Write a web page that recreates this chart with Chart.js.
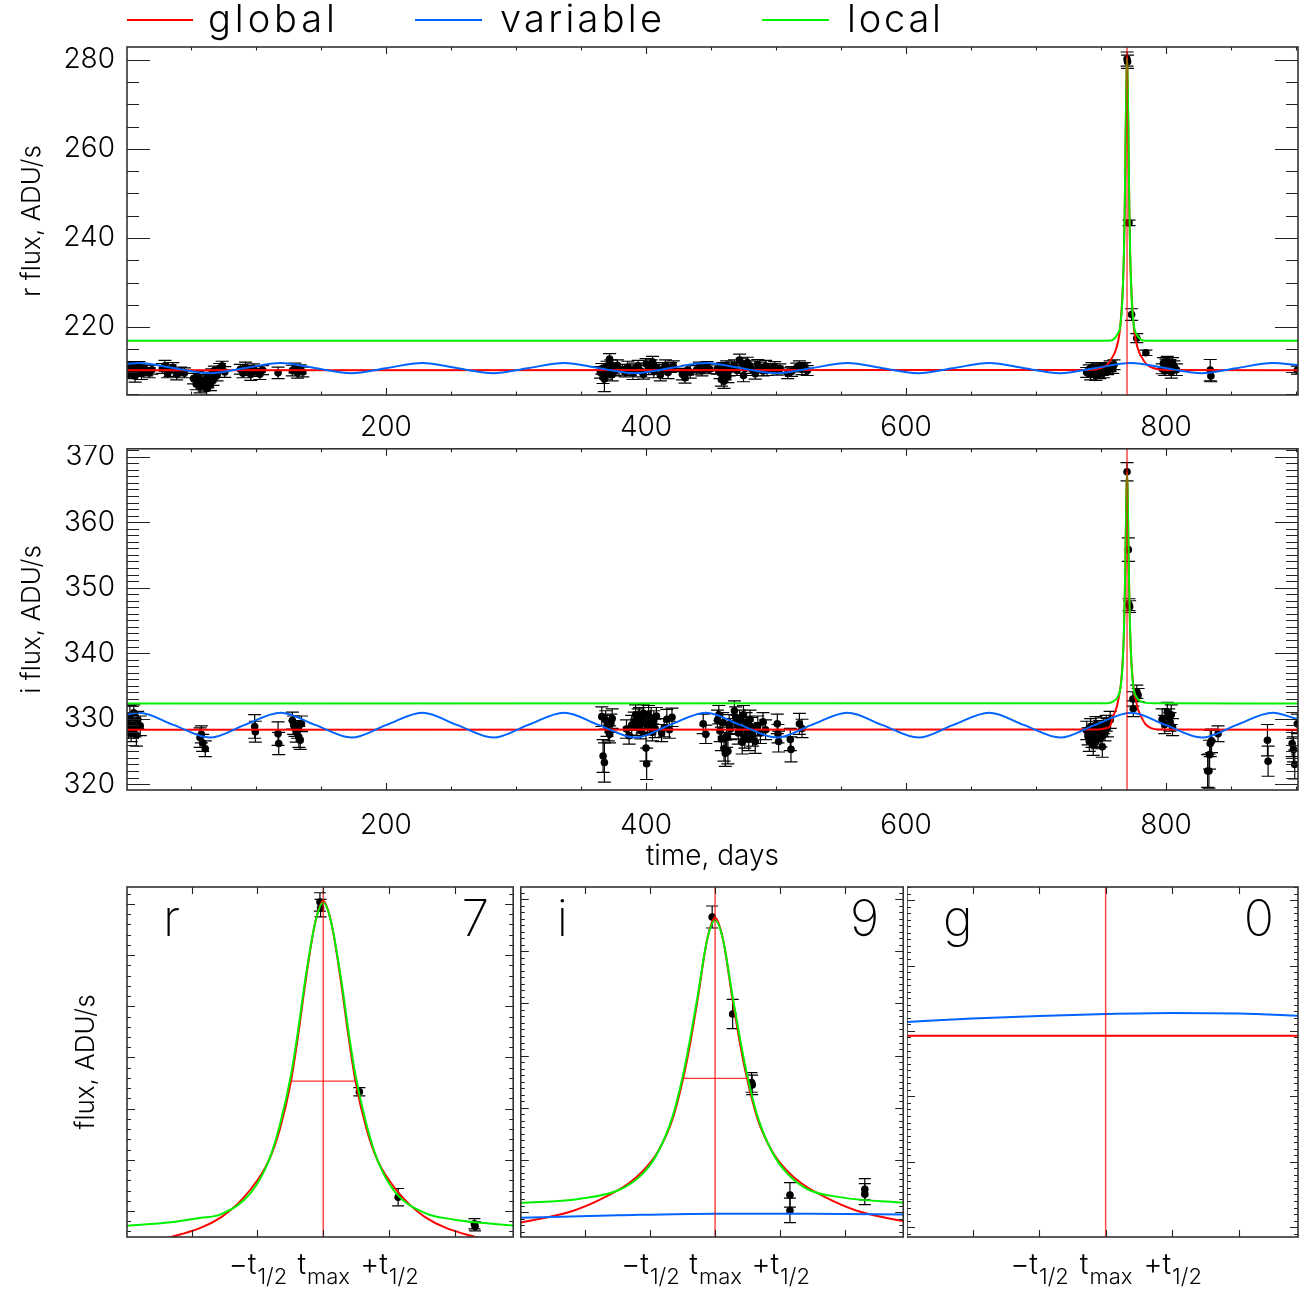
<!DOCTYPE html>
<html><head><meta charset="utf-8">
<script src="https://cdn.jsdelivr.net/npm/chart.js@4.4.0/dist/chart.umd.min.js"></script>
<style>
html,body{margin:0;padding:0;background:#fff;}
#wrap{position:relative;width:1305px;height:1289px;overflow:hidden;background:#fff;}
canvas{position:absolute;}
</style></head><body><div id="wrap">
<canvas id="c1" style="left:0px;top:0px" width="1305" height="445"></canvas>
<canvas id="c2" style="left:0px;top:445px" width="1305" height="440"></canvas>
<canvas id="c3" style="left:60px;top:880px" width="457" height="409"></canvas>
<canvas id="c4" style="left:517px;top:880px" width="390" height="409"></canvas>
<canvas id="c5" style="left:907px;top:880px" width="398" height="409"></canvas>
</div>
<script>
// ---------------- DATA ----------------
const tMax = 770;
const xTickLabels = [200, 400, 600, 800];
const rTickLabels = [220, 240, 260, 280];
const iTickLabels = [320, 330, 340, 350, 360, 370];

// r band observations (days, flux, error)
const rDays = [1,2,3,4,5,6,7,8,9,10,11,12,14,16,18,20,
 28,30,32,34,36,39,42,45,
 52,54,55,57,58,60,61,62,63,64,65,66,67,68,70,72,74,76,
 88,90,92,94,96,98,100,103,105,
 117,
 128,130,132,134,136,
 365,366,367,368,369,370,371,372,373,374,375,376,378,
 382,384,386,388,390,392,394,396,398,400,402,404,405,406,408,
 411,413,415,417,419,421,
 428,430,432,434,
 439,441,443,445,447,449,
 455,457,458,459,460,461,462,463,464,466,
 468,470,472,474,475,476,478,480,482,484,486,488,490,492,493,
 497,499,501,503,
 509,512,
 516,518,520,522,524,
 739,741,742,743,744,745,746,747,748,749,750,751,752,753,755,757,759,760,
 770,770.4,771.5,773.5,777.5,784.5,
 797,798,799,800,801,802,803,804,805,806,808,
 834,834.5,
 901];
const rFlux = [210.5,209.4,210.9,209.8,211.2,210.1,209.0,210.6,209.9,211.0,210.3,209.5,210.8,210.2,209.7,210.4,
 210.7,211.3,209.6,210.2,210.9,209.3,210.0,209.7,
 208.4,207.2,208.9,206.6,207.8,206.9,208.2,206.2,207.5,208.7,207.0,209.4,208.0,210.2,209.1,210.7,211.3,209.9,
 210.5,209.6,210.9,210.2,209.3,210.7,210.0,209.4,210.3,
 209.7,
 210.2,210.8,209.7,210.5,209.9,
 209.8,210.6,208.7,208.3,209.5,211.2,210.0,212.8,211.5,209.3,210.7,210.1,211.4,
 210.4,209.9,211.0,210.3,209.6,210.8,211.3,210.1,209.4,211.7,210.6,211.5,212.2,210.0,210.9,
 209.2,210.5,211.4,209.8,210.9,211.2,
 209.4,208.6,210.3,209.9,
 210.4,211.0,210.2,210.7,211.1,210.5,
 210.6,209.7,208.2,210.9,207.8,209.3,211.3,208.9,210.2,211.0,
 211.4,210.2,212.6,211.8,209.1,210.7,212.0,211.3,210.4,209.5,211.6,210.9,210.1,211.2,210.3,
 210.8,211.1,210.2,210.6,
 209.6,210.0,
 210.9,211.3,210.5,211.0,210.2,
 209.8,210.5,209.3,210.9,209.9,210.2,209.1,210.7,210.0,209.5,211.0,210.3,209.7,210.8,210.4,211.2,210.6,211.5,
 280.2,279.6,243.4,222.8,217.5,214.2,
 210.6,211.9,210.1,211.5,212.3,210.8,211.7,209.9,212.0,211.2,210.4,
 210.3,209.0,
 210.3];
const rErr = [1.2,1.0,1.1,1.3,1.0,1.2,1.4,1.1,1.0,1.2,1.1,1.3,1.0,1.2,1.1,1.0,
 1.1,1.2,1.0,1.3,1.1,1.2,1.0,1.1,
 1.2,1.3,1.1,1.4,1.2,1.3,1.1,1.5,1.2,1.1,1.3,1.2,1.1,1.0,1.2,1.1,1.0,1.2,
 1.1,1.0,1.2,1.1,1.3,1.0,1.1,1.2,1.0,
 1.3,
 1.2,1.1,1.2,1.0,1.1,
 1.3,1.2,1.4,2.8,1.2,1.1,1.3,1.2,1.1,1.4,1.2,1.1,1.2,
 1.2,1.1,1.3,1.2,1.4,1.1,1.2,1.3,1.1,1.2,1.3,1.1,1.2,1.4,1.1,
 1.3,1.1,1.2,1.4,1.1,1.2,
 1.3,1.2,1.1,1.4,
 1.0,1.1,1.2,1.0,1.1,1.0,
 1.2,1.3,1.5,1.1,1.6,1.2,1.1,1.4,1.2,1.1,
 1.2,1.1,1.3,1.2,1.4,1.1,1.2,1.1,1.3,1.2,1.1,1.2,1.1,1.3,1.2,
 1.0,1.1,1.0,1.1,
 1.2,1.1,
 1.0,1.1,1.2,1.0,1.1,
 1.1,1.0,1.2,1.1,1.0,1.2,1.1,1.0,1.2,1.1,1.0,1.2,1.1,1.0,1.1,1.2,1.0,1.1,
 1.6,1.5,0.6,1.3,1.0,0.6,
 1.1,1.2,1.0,1.3,1.1,1.2,1.0,1.4,1.1,1.2,1.3,
 2.4,1.3,
 0.9];

// i band observations
const iDays = [1,2,3,4,5,6,7,8,9,11,
 57,58,59,61,
 99,99.5,
 117,117.5,
 128,129,130,131,132,133,134,135,
 366,367,368,369,370,371,372,373,374,
 385,387,389,
 391,392,393,394,395,396,397,398,399,400,400.5,401,402,403,404,405,406,407,408,
 412,414,416,418,420,
 444,446,
 455,456,457,458,459,460,461,462,463,464,465,
 468,469,470,471,472,473,474,475,476,477,478,479,480,481,482,484,486,488,490,492,
 501,501.5,502,
 511,511.5,
 518,520,
 739,740,741,742,743,744,745,746,747,748,749,750,751,752,753,754,755,757,
 770,771,771.5,772,774.5,777.5,778.5,774.8,
 797,799,801,802,803,804,805,
 832,833,833.5,834,835,840,
 878,878.5,
 897,898,899,901];
const iFlux = [329.5,328.2,330.4,327.8,329.0,330.9,328.6,327.5,329.8,328.9,
 327.1,327.6,326.3,325.4,
 328.8,328.0,
 327.7,326.2,
 329.7,329.0,328.5,327.9,328.3,327.2,326.7,329.2,
 330.3,324.3,323.3,329.8,328.9,328.1,327.6,329.3,330.0,
 328.4,327.4,329.0,
 329.6,330.6,328.7,329.9,330.3,328.2,329.3,330.8,329.5,325.5,323.1,328.9,330.5,329.1,330.1,327.9,329.7,328.5,330.4,
 327.8,328.6,329.9,328.3,330.2,
 329.2,327.6,
 329.8,330.6,328.1,326.9,329.4,325.4,324.7,327.3,325.0,329.1,328.4,
 331.2,330.2,329.1,327.8,329.8,328.5,326.4,330.6,327.2,329.4,328.0,326.9,329.9,328.7,327.5,326.5,328.9,327.8,329.5,328.3,
 329.2,327.7,326.5,
 326.8,325.3,
 329.2,328.5,
 328.2,327.3,326.5,328.8,327.0,326.0,327.8,329.1,326.8,327.6,328.4,327.1,325.7,328.9,327.9,329.3,328.6,329.8,
 367.7,355.8,347.4,347.1,333.0,334.1,333.6,331.5,
 329.9,329.1,331.0,330.2,329.5,330.6,328.7,
 322.0,322.0,324.5,326.2,326.6,327.7,
 326.7,323.5,
 326.2,325.3,323.0,329.2];
const iErr = [1.4,1.2,1.6,1.3,1.5,1.2,1.4,1.7,1.3,1.5,
 1.5,1.3,1.3,1.2,
 1.8,1.6,
 1.8,1.7,
 1.3,1.4,1.2,1.5,1.3,1.6,1.4,1.2,
 1.5,2.5,3.0,1.4,1.6,1.5,1.3,1.4,1.5,
 1.4,1.3,1.5,
 1.4,1.5,1.3,1.6,1.4,1.3,1.5,1.4,1.6,2.0,2.4,1.3,1.5,1.4,1.6,1.3,1.5,1.4,1.3,
 1.3,1.4,1.5,1.3,1.4,
 1.5,1.4,
 1.5,1.4,1.6,1.8,1.5,1.9,2.0,1.7,1.9,1.5,1.6,
 1.5,1.6,1.4,1.7,1.5,1.6,1.8,1.4,1.7,1.5,1.6,1.8,1.4,1.5,1.7,1.8,1.5,1.6,1.4,1.5,
 1.5,1.4,1.6,
 1.7,1.9,
 1.6,1.4,
 1.4,1.3,1.5,1.2,1.4,1.6,1.3,1.2,1.4,1.5,1.3,1.4,1.6,1.2,1.3,1.2,1.4,1.3,
 1.4,1.8,0.9,0.9,1.1,1.0,1.0,1.2,
 1.6,1.4,1.5,1.3,1.4,1.5,1.3,
 2.5,2.6,2.2,2.0,1.8,1.2,
 2.4,2.3,
 2.0,1.9,2.2,1.5];

// model curves, full light curves (days, flux)
const varDays = [0.8,10,37,64.5,91,119,146,173.5,200,228,255,282.5,309,337,364,391.5,418,446,473,500.5,527,555,582,609.5,636,664,691,718.5,745,773,800,827.5,854,882,901.5];
const rVarFlux = [211.75,211.9,210.75,209.6,210.75,211.9,210.75,209.6,210.75,211.9,210.75,209.6,210.75,211.9,210.75,209.6,210.75,211.9,210.75,209.6,210.75,211.9,210.75,209.6,210.75,211.9,210.75,209.6,210.75,211.9,210.75,209.6,210.75,211.9,211.45];
const iVarFlux = [330.6,330.9,329.0,327.1,329.0,330.9,329.0,327.1,329.0,330.9,329.0,327.1,329.0,330.9,329.0,327.1,329.0,330.9,329.0,327.1,329.0,330.9,329.0,327.1,329.0,330.9,329.0,327.1,329.0,330.9,329.0,327.1,329.0,330.9,329.9];

const rGlobalDays = [0.8,740,750,755,759.1,761.4,764.3,765.9,766.9,767.6,768.2,768.6,769.0,769.6,770,770.4,771.0,771.4,771.8,772.4,773.1,774.1,775.7,778.6,780.9,785,790,800,901.5];
const rGlobalFlux = [210.3,210.35,210.8,211.6,213.4,214.9,218.8,224.3,229.8,236.0,245.4,254.5,264.8,276.5,280.6,276.5,264.8,254.5,245.4,236.0,229.8,224.3,218.8,214.9,213.4,211.6,210.8,210.35,210.3];
const rLocalDays = [0.8,755,759.1,761.4,763,764.3,765.9,766.9,767.6,768.2,768.6,769.0,769.6,770,770.4,771.0,771.4,771.8,772.4,773.1,774.1,775.7,777.4,778.6,780.9,790,901.5];
const rLocalFlux = [216.9,216.9,217.1,217.8,218.6,219.4,223.6,229.8,236.8,246.6,255.5,265.5,276.5,280.3,276.5,265.5,255.5,246.6,236.8,229.8,223.6,219.6,218.3,217.8,217.1,216.9,216.9];

const iGlobalDays = [0.8,745,752,755,757,759.1,761.7,763.3,765.1,765.9,766.7,767.6,768.2,768.6,769.0,769.56,770,770.44,771.0,771.4,771.8,772.4,773.3,774.1,774.9,776.7,778.3,780.9,784,788,795,901.5];
const iGlobalFlux = [328.3,328.32,328.45,328.6,328.85,330.3,331.5,332.9,335.0,336.6,338.9,343.0,347.9,352.3,357.5,365.0,367.6,365.0,357.5,352.3,347.9,343.0,338.9,336.6,335.0,332.9,331.5,330.3,329.2,328.6,328.35,328.3];
const iLocalDays = [0.8,755,759.1,762.2,764.6,765.9,766.7,767.6,768.2,768.6,769.0,769.56,770,770.44,771.0,771.4,771.8,772.4,773.3,774.1,775.25,777.2,780.9,790,901.5];
const iLocalFlux = [332.3,332.35,332.6,333.1,334.3,336.3,338.8,343.3,348.4,352.9,357.9,365.0,367.3,365.0,357.9,352.9,348.4,343.3,338.8,336.3,334.3,333.3,332.6,332.35,332.3];

// zoomed panels, time in units of t1/2 around t_max
const zTickLabels = [["\u2212t","1/2"],["t","max"],["+t","1/2"]];
const brU = [-0.05,-0.04,0.55,1.14,2.30,2.31];
const brFlux = [280.4,279.2,243.3,222.7,217.5,217.0];
const brErr = [1.8,1.7,0.8,1.7,1.0,0.9];
const brGlobalU = [-3.0,-2.32,-1.55,-1.1,-0.83,-0.66,-0.49,-0.38,-0.27,-0.12,0,0.12,0.27,0.38,0.49,0.66,0.83,1.1,1.55,2.32,2.95];
const brGlobalFlux = [213.3,214.9,218.8,224.3,229.8,236.0,245.4,254.5,264.8,276.5,280.6,276.5,264.8,254.5,245.4,236.0,229.8,224.3,218.8,214.9,213.4];
const brLocalU = [-3.0,-2.32,-1.9,-1.55,-1.1,-0.83,-0.66,-0.49,-0.38,-0.27,-0.12,0,0.12,0.27,0.38,0.49,0.66,0.83,1.1,1.55,2.0,2.32,2.95];
const brLocalFlux = [217.1,217.8,218.6,219.4,223.6,229.8,236.8,246.6,255.5,265.5,276.5,280.3,276.5,265.5,255.5,246.6,236.8,229.8,223.6,219.6,218.3,217.8,217.1];
const brHalfU = [-0.49,0.49];
const brHalfFlux = [245.4,245.4];

const biU = [-0.045,0.27,0.56,0.57,1.15,1.15,2.3,2.3];
const biFlux = [367.7,355.8,347.4,347.1,333.6,331.7,334.3,333.7];
const biErr = [1.35,1.8,1.2,1.2,1.5,1.5,1.3,1.3];
const biGlobalU = [-3.0,-2.24,-1.8,-1.33,-1.1,-0.88,-0.65,-0.49,-0.38,-0.27,-0.12,0,0.12,0.27,0.38,0.49,0.65,0.88,1.1,1.33,1.8,2.24,2.95];
const biGlobalFlux = [330.2,331.5,332.9,335.0,336.6,338.9,343.0,347.9,352.3,357.5,365.0,367.6,365.0,357.5,352.3,347.9,343.0,338.9,336.6,335.0,332.9,331.5,330.3];
const biLocalU = [-3.0,-2.1,-1.45,-1.1,-0.88,-0.65,-0.49,-0.38,-0.27,-0.12,0,0.12,0.27,0.38,0.49,0.65,0.88,1.1,1.42,1.94,2.95];
const biLocalFlux = [332.6,333.1,334.3,336.3,338.8,343.3,348.4,352.9,357.9,365.0,367.3,365.0,357.9,352.9,348.4,343.3,338.8,336.3,334.3,333.3,332.6];
const biVarU = [-3.0,-1.5,0,1.5,2.95];
const biVarFlux = [330.8,331.1,331.3,331.3,331.2];
const biHalfU = [-0.49,0.5];
const biHalfFlux = [347.9,347.9];

const bgGlobalU = [-3.0,2.95];
const bgGlobalFlux = [58.5,58.5];
const bgVarU = [-3.0,-2,-1,0,1,2,2.95];
const bgVarFlux = [62.7,63.8,64.6,65.2,65.5,65.3,64.6];

// axis ranges
const rRange = [204.72, 282.92];
const iRange = [319.1, 371.2];
const dayRange = [0.8, 901.5];
const uRange = [-2.985, 2.89];
const brRange = [214.92, 283.32];
const biRange = [328.44, 371.38];
const bgRange = [-3, 104];

// ---------------- STYLE ----------------
const FONT = 'Inter, "DejaVu Sans", sans-serif';
const RED = '#ff0000', BLUE = '#0064ff', GREEN = '#00f000';
Chart.defaults.font.family = FONT;
Chart.defaults.font.weight = '300';
Chart.defaults.color = '#000';

function pts(xs, ys){ return xs.map((x,i)=>({x:x, y:ys[i]})); }
function curve(label, xs, ys, color, extra){
  return Object.assign({label:label, data:pts(xs,ys), showLine:true, borderColor:color, backgroundColor:color,
    borderWidth:2, pointRadius:0, pointHoverRadius:0, cubicInterpolationMode:'monotone', fill:false}, extra||{});
}
function vline(x, range){
  return {label:'tmax', data:[{x:x,y:range[0]},{x:x,y:range[1]}], showLine:true, borderColor:'rgba(255,0,0,0.72)',
    borderWidth:1.5, pointRadius:0, tension:0, fill:false};
}
function obs(xs, ys, es){
  return {label:'data', data:pts(xs,ys), errors:es, showLine:false, pointRadius:3.8, pointHoverRadius:3.8,
    backgroundColor:'#000', borderColor:'#000', borderWidth:0};
}

// ---------------- PLUGINS ----------------
const idlAxes = {
  id:'idlAxes',
  afterDatasetsDraw(chart, args, opts){
    const ctx = chart.ctx, a = chart.chartArea;
    ctx.save();
    ctx.strokeStyle = '#222'; ctx.lineWidth = 1.1;
    const draw = (scale, cfg, hor) => {
      if (!cfg) return;
      const origin = cfg.origin || 0, step = cfg.minor || cfg.major;
      const k0 = Math.ceil((scale.min - origin)/step - 1e-9), k1 = Math.floor((scale.max - origin)/step + 1e-9);
      for (let k=k0;k<=k1;k++){
        const v = origin + k*step, r = (v-origin)/cfg.major;
        const len = Math.abs(r-Math.round(r))<1e-6 ? cfg.majLen : cfg.minLen;
        const p = Math.round(scale.getPixelForValue(v)) + 0.5;
        ctx.beginPath();
        if (hor){ ctx.moveTo(p,a.bottom); ctx.lineTo(p,a.bottom-len); ctx.moveTo(p,a.top); ctx.lineTo(p,a.top+len); }
        else { ctx.moveTo(a.left,p); ctx.lineTo(a.left+len,p); ctx.moveTo(a.right,p); ctx.lineTo(a.right-len,p); }
        ctx.stroke();
      }
    };
    draw(chart.scales.x, opts.x, true);
    draw(chart.scales.y, opts.y, false);
    ctx.strokeStyle = '#333'; ctx.lineWidth = 1.6;
    ctx.strokeRect(a.left, a.top, a.right-a.left, a.bottom-a.top);
    ctx.restore();
  }
};
const errorBars = {
  id:'errorBars',
  beforeDatasetsDraw(chart, args, opts){
    const ctx = chart.ctx, a = chart.chartArea, xs = chart.scales.x, ys = chart.scales.y;
    const cap = opts.cap || 6;
    ctx.save();
    ctx.beginPath(); ctx.rect(a.left, a.top, a.right-a.left, a.bottom-a.top); ctx.clip();
    ctx.strokeStyle = '#000'; ctx.lineWidth = 1.2;
    chart.data.datasets.forEach(ds => {
      if (!ds.errors) return;
      ds.data.forEach((p,i) => {
        const e = ds.errors[i];
        const x = xs.getPixelForValue(p.x), y1 = ys.getPixelForValue(p.y-e), y2 = ys.getPixelForValue(p.y+e);
        ctx.beginPath();
        ctx.moveTo(x,y1); ctx.lineTo(x,y2);
        ctx.moveTo(x-cap,y1); ctx.lineTo(x+cap,y1);
        ctx.moveTo(x-cap,y2); ctx.lineTo(x+cap,y2);
        ctx.stroke();
      });
    });
    ctx.restore();
  }
};
const topLegend = {
  id:'topLegend',
  afterDraw(chart, args, opts){
    if (!opts.items) return;
    const ctx = chart.ctx;
    ctx.save();
    opts.items.forEach(it => {
      const ds = chart.data.datasets.find(d => d.label === it.label);
      ctx.strokeStyle = ds.borderColor; ctx.lineWidth = 2;
      ctx.beginPath(); ctx.moveTo(it.x0, opts.lineY); ctx.lineTo(it.x1, opts.lineY); ctx.stroke();
      ctx.fillStyle = '#000';
      ctx.font = '300 ' + opts.size + 'px ' + FONT;
      ctx.textBaseline = 'alphabetic';
      if ('letterSpacing' in ctx) ctx.letterSpacing = '0px';
      const w = ctx.measureText(it.label).width;
      if ('letterSpacing' in ctx) ctx.letterSpacing = ((it.tw - w)/(it.label.length-1)).toFixed(2) + 'px';
      ctx.fillText(it.label, it.tx, opts.baseY);
    });
    ctx.restore();
  }
};
const panelText = {
  id:'panelText',
  afterDraw(chart, args, opts){
    const ctx = chart.ctx, a = chart.chartArea;
    ctx.save(); ctx.fillStyle = '#000';
    if (opts.left !== undefined){
      ctx.font = '200 50px ' + FONT; ctx.textBaseline = 'alphabetic';
      ctx.textAlign = 'left'; ctx.fillText(opts.left, a.left + 36, a.top + 49);
      ctx.textAlign = 'right'; ctx.fillText(opts.right, a.right - 24, a.top + 49);
    }
    if (opts.tlabels){
      const xs = chart.scales.x;
      [-1,0,1].forEach((u,i) => {
        const [m,s] = zTickLabels[i];
        ctx.font = '300 29px ' + FONT; const wm = ctx.measureText(m).width;
        ctx.font = '300 22px ' + FONT; const wsub = ctx.measureText(s).width;
        const x0 = xs.getPixelForValue(u) - (wm+wsub)/2;
        ctx.textAlign = 'left'; ctx.textBaseline = 'alphabetic';
        ctx.font = '300 29px ' + FONT; ctx.fillText(m, x0, a.bottom + 37);
        ctx.font = '300 22px ' + FONT; ctx.fillText(s, x0 + wm + 1, a.bottom + 47);
      });
    }
    ctx.restore();
  }
};

function fixW(w){ return s => { s.width = w; s.paddingTop = 0; s.paddingBottom = 0; s.paddingLeft = 0; s.paddingRight = 0; }; }
function fixH(h){ return s => { s.height = h; s.paddingTop = 0; s.paddingBottom = 0; s.paddingLeft = 0; s.paddingRight = 0; }; }

function bigChart(id, cfg){
  return new Chart(document.getElementById(id), {
    type:'scatter',
    data:{datasets:cfg.datasets},
    plugins:[errorBars, idlAxes, topLegend],
    options:{
      responsive:false, animation:false, devicePixelRatio:1, events:[],
      layout:{padding:{top:cfg.padTop, right:7, left:0, bottom:0}},
      plugins:{legend:{display:false}, tooltip:{enabled:false},
        idlAxes:{x:{major:200,minor:50,majLen:7,minLen:3.5}, y:{major:cfg.yMajor,minor:cfg.yMinor,majLen:23,minLen:12}},
        errorBars:{cap:6.5},
        topLegend:cfg.legend || {}},
      scales:{
        x:{type:'linear', min:dayRange[0], max:dayRange[1], afterFit:fixH(cfg.xH),
          grid:{display:false, drawTicks:false}, border:{display:false},
          ticks:{stepSize:200, includeBounds:false, autoSkip:false, maxRotation:0, padding:cfg.xPad, font:{size:28},
            callback:v => xTickLabels.includes(v) ? String(v) : ''},
          title:cfg.xTitle ? {display:true, text:cfg.xTitle, font:{size:28}, padding:{top:0,bottom:cfg.xTitlePad}} : {display:false}},
        y:{type:'linear', min:cfg.yRange[0], max:cfg.yRange[1], afterFit:fixW(127),
          grid:{display:false, drawTicks:false}, border:{display:false},
          ticks:{stepSize:cfg.yMajor, includeBounds:false, autoSkip:false, padding:12, font:{size:28},
            callback:v => cfg.yLabels.includes(Math.round(v*1000)/1000) ? String(v) : ''},
          title:{display:true, text:cfg.yTitle, font:{size:26}, padding:{top:17,bottom:0}}}
      }
    }
  });
}

bigChart('c1', {
  padTop:47, xH:50, xPad:16, yRange:rRange, yMajor:20, yMinor:5, yLabels:rTickLabels, yTitle:'r flux, ADU/s',
  legend:{lineY:20, baseY:32, size:38, items:[
    {label:'global', x0:127, x1:193, tx:208, tw:127},
    {label:'variable', x0:415, x1:482, tx:500, tw:162},
    {label:'local', x0:762, x1:829, tx:847, tw:94}]},
  datasets:[
    vline(tMax, rRange),
    curve('local', rLocalDays, rLocalFlux, GREEN),
    curve('variable', varDays, rVarFlux, BLUE),
    curve('global', rGlobalDays, rGlobalFlux, RED),
    obs(rDays, rFlux, rErr)
  ]
});
bigChart('c2', {
  padTop:0, xH:95, xPad:19, yRange:iRange, yMajor:10, yMinor:1, yLabels:iTickLabels, yTitle:'i flux, ADU/s',
  xTitle:'time, days', xTitlePad:12,
  datasets:[
    vline(tMax, iRange),
    curve('local', iLocalDays, iLocalFlux, GREEN),
    curve('variable', varDays, iVarFlux, BLUE),
    curve('global', iGlobalDays, iGlobalFlux, RED),
    obs(iDays, iFlux, iErr)
  ]
});

function zoomChart(id, cfg){
  return new Chart(document.getElementById(id), {
    type:'scatter',
    data:{datasets:cfg.datasets},
    plugins:[errorBars, idlAxes, panelText],
    options:{
      responsive:false, animation:false, devicePixelRatio:1, events:[],
      layout:{padding:{top:7, right:cfg.padRight, left:0, bottom:0}},
      plugins:{legend:{display:false}, tooltip:{enabled:false},
        idlAxes:{x:{major:1,minor:1,majLen:7,minLen:7}, y:cfg.yTicks},
        errorBars:{cap:6},
        panelText:{left:cfg.left, right:cfg.right, tlabels:true}},
      scales:{
        x:{type:'linear', min:uRange[0], max:uRange[1], afterFit:fixH(52),
          grid:{display:false, drawTicks:false}, border:{display:false}, ticks:{display:false}},
        y:{type:'linear', min:cfg.yRange[0], max:cfg.yRange[1], afterFit:fixW(cfg.yW),
          grid:{display:false, drawTicks:false}, border:{display:false}, ticks:{display:false},
          title:cfg.yTitle ? {display:true, text:cfg.yTitle, font:{size:26}, padding:{top:11,bottom:0}} : {display:false}}
      }
    }
  });
}

zoomChart('c3', {padRight:0, yW:67, yTitle:'flux, ADU/s', yRange:brRange, left:'r', right:'7',
  yTicks:{major:10, minor:2, majLen:8, minLen:4},
  datasets:[
    vline(0, brRange),
    curve('half', brHalfU, brHalfFlux, 'rgba(255,0,0,0.8)', {borderWidth:1.2, tension:0, cubicInterpolationMode:'default'}),
    curve('local', brLocalU, brLocalFlux, GREEN),
    curve('global', brGlobalU, brGlobalFlux, RED),
    obs(brU, brFlux, brErr)
  ]});
zoomChart('c4', {padRight:0, yW:0, yRange:biRange, left:'i', right:'9',
  yTicks:{major:6.4, minor:0.8, origin:331.5, majLen:8, minLen:4},
  datasets:[
    vline(0, biRange),
    curve('half', biHalfU, biHalfFlux, 'rgba(255,0,0,0.8)', {borderWidth:1.2, tension:0, cubicInterpolationMode:'default'}),
    curve('local', biLocalU, biLocalFlux, GREEN),
    curve('variable', biVarU, biVarFlux, BLUE),
    curve('global', biGlobalU, biGlobalFlux, RED),
    obs(biU, biFlux, biErr)
  ]});
zoomChart('c5', {padRight:7, yW:0, yRange:bgRange, left:'g', right:'0',
  yTicks:{major:20, minor:2, majLen:8, minLen:4},
  datasets:[
    vline(0, bgRange),
    curve('variable', bgVarU, bgVarFlux, BLUE),
    curve('global', bgGlobalU, bgGlobalFlux, RED, {tension:0, cubicInterpolationMode:'default'})
  ]});
</script></body></html>
